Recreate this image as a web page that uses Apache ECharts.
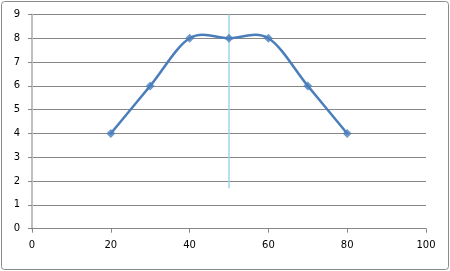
<!DOCTYPE html>
<html><head><meta charset="utf-8">
<script src="https://cdn.jsdelivr.net/npm/echarts@6/dist/echarts.min.js"></script>
<style>html,body{margin:0;padding:0;background:#fff}#c{width:450px;height:271px}</style>
</head><body><div id="c"></div>
<script>
var xValues = [20, 30, 40, 50, 60, 70, 80];
var yValues = [4, 6, 8, 8, 8, 6, 4];
var refLineX = [50, 50];
var refLineY = [1.7, 9];
var xTicks = [0, 20, 40, 60, 80, 100];
var yTicks = [0, 1, 2, 3, 4, 5, 6, 7, 8, 9];

var chart = echarts.init(document.getElementById('c'));
var font = 'DejaVu Sans';
var pts = xValues.map(function(x,i){return [x, yValues[i]];});
var blue = '#4a7ebb';

function renderSeg(params, api) {
  var i = params.dataIndex;
  var n = pts.length;
  if (i >= n - 1) return null;
  var p0 = api.coord(pts[Math.max(i-1,0)]);
  var p1 = api.coord(pts[i]);
  var p2 = api.coord(pts[i+1]);
  var p3 = api.coord(pts[Math.min(i+2,n-1)]);
  var k = 1/6;
  var c1x = p1[0] + (p2[0]-p0[0])*k, c1y = p1[1] + (p2[1]-p0[1])*k;
  var c2x = p2[0] - (p3[0]-p1[0])*k, c2y = p2[1] - (p3[1]-p1[1])*k;
  return {type:'bezierCurve',
    shape:{x1:p1[0],y1:p1[1],x2:p2[0],y2:p2[1],cpx1:c1x,cpy1:c1y,cpx2:c2x,cpy2:c2y},
    style:{stroke:blue, lineWidth:2.5, fill:null, lineCap:'round'}};
}

chart.setOption({
  animation: false,
  graphic: [{type:'rect', shape:{x:1.5,y:1.5,width:447,height:268,r:3}, style:{fill:'none',stroke:'#8a8a8a',lineWidth:1}}],
  grid: {left: 32, right: 24, top: 14.5, bottom: 42.3},
  xAxis: {type:'value', min: xTicks[0], max: xTicks[xTicks.length-1], interval: 20,
    axisLine:{show:true, lineStyle:{color:'#868686', width:1}},
    axisTick:{show:true, inside:false, length:4, lineStyle:{color:'#868686'}},
    axisLabel:{color:'#000', fontFamily:font, fontSize:10, margin:12},
    splitLine:{show:false}},
  yAxis: {type:'value', min: yTicks[0], max: yTicks[yTicks.length-1], interval: 1,
    axisLine:{show:true, lineStyle:{color:'#c0c0c0', width:2}},
    axisTick:{show:true, length:4, lineStyle:{color:'#868686'}},
    axisLabel:{color:'#000', fontFamily:font, fontSize:10, margin:12},
    splitLine:{show:true, lineStyle:{color:'#868686', width:1}}},
  series: [
    {type:'line', data: refLineX.map(function(x,i){return [x, refLineY[i]];}), symbol:'none',
     lineStyle:{color:'#9fd6e8', width:1.5}, z:1},
    {type:'custom', data: pts, renderItem: renderSeg, z:3},
    {type:'scatter', data: pts, symbol:'diamond', symbolSize:9,
     itemStyle:{color:blue}, z:4}
  ]
});
</script></body></html>
